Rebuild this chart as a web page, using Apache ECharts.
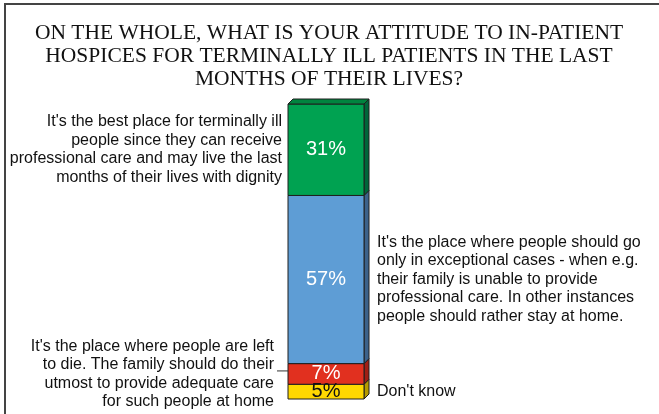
<!DOCTYPE html>
<html>
<head>
<meta charset="utf-8">
<script src="https://cdn.jsdelivr.net/npm/echarts@6/dist/echarts.min.js"></script>
<style>
  html, body { margin: 0; padding: 0; background: #fff; }
  #chart { width: 659px; height: 414px; }
</style>
</head>
<body>
<div id="chart"></div>
<script>
// Survey answers, listed from the top of the stacked column to the bottom
const answers = [
  "It's the best place for terminally ill\npeople since they can receive\nprofessional care and may live the last\nmonths of their lives with dignity",
  "It's the place where people should go\nonly in exceptional cases - when e.g.\ntheir family is unable to provide\nprofessional care. In other instances\npeople should rather stay at home.",
  "It's the place where people are left\nto die. The family should do their\nutmost to provide adequate care\nfor such people at home",
  "Don't know"
];
// Share of respondents (%) for each answer
const shares = [31, 57, 7, 5];

const titleText = "ON THE WHOLE, WHAT IS YOUR ATTITUDE TO IN-PATIENT\nHOSPICES FOR TERMINALLY ILL PATIENTS IN THE LAST\nMONTHS OF THEIR LIVES?";

// Face colours: front, side, top, and value-label colour
const faceFront = ['#00a251', '#5e9dd5', '#e1301f', '#ffd800'];
const faceSide  = ['#00663a', '#3c628a', '#a01f14', '#b59a00'];
const faceTop   = ['#00843f', '#4a7fb0', '#b82619', '#d4b400'];
const valueInk  = ['#ffffff', '#ffffff', '#ffffff', '#111111'];
// Which answers sit to the right of the column, and extra gap for a leader line
const onRight   = [false, true, false, true];
const leaderGap = [0, 0, 8, 0];

const SANS = "'Liberation Sans', Arial, sans-serif";
const DEPTH = 5;

// Stack the segments from the bottom up
const segments = [];
let acc = 0;
for (let i = shares.length - 1; i >= 0; i--) {
  segments.push({ value: [0, acc, acc + shares[i], i] });
  acc += shares[i];
}
const topIndex = 0;

function renderItem(params, api) {
  const start = api.value(1);
  const end = api.value(2);
  const i = api.value(3);
  const pB = api.coord([0, start]);
  const pT = api.coord([0, end]);
  const w = api.size([1, 0])[0];
  const x = pB[0] - w / 2;
  const yB = pB[1];
  const yT = pT[1];
  const yC = (yB + yT) / 2;
  const edge = { stroke: '#1e1e1e', lineWidth: 1 };
  const children = [
    {
      type: 'polygon',
      shape: { points: [[x + w, yT], [x + w + DEPTH, yT - DEPTH], [x + w + DEPTH, yB - DEPTH], [x + w, yB]] },
      style: Object.assign({ fill: faceSide[i] }, edge)
    },
    {
      type: 'rect',
      shape: { x: x, y: yT, width: w, height: yB - yT },
      style: Object.assign({ fill: faceFront[i] }, edge)
    }
  ];
  if (i === topIndex) {
    children.push({
      type: 'polygon',
      shape: { points: [[x, yT], [x + DEPTH, yT - DEPTH], [x + w + DEPTH, yT - DEPTH], [x + w, yT]] },
      style: Object.assign({ fill: faceTop[i] }, edge)
    });
  }
  children.push({
    type: 'text',
    style: {
      text: shares[i] + '%',
      x: x + w / 2, y: yC,
      align: 'center', verticalAlign: 'middle',
      fill: valueInk[i], font: '20px ' + SANS
    },
    z2: 10
  });
  const textX = onRight[i] ? x + w + DEPTH + 8 : x - 6 - leaderGap[i];
  children.push({
    type: 'text',
    style: {
      text: answers[i],
      x: textX, y: yC,
      align: onRight[i] ? 'left' : 'right', verticalAlign: 'middle',
      fill: '#111', font: '16px ' + SANS, lineHeight: 18.5
    }
  });
  if (leaderGap[i] > 0) {
    children.push({
      type: 'line',
      shape: { x1: textX + 3, y1: yC - 3, x2: x, y2: yC - 3 },
      style: { stroke: '#333', lineWidth: 1 }
    });
  }
  return { type: 'group', children: children };
}

const chart = echarts.init(document.getElementById('chart'), null, { renderer: 'canvas' });
chart.setOption({
  animation: false,
  backgroundColor: '#ffffff',
  graphic: [
    {
      type: 'rect',
      shape: { x: 5, y: 4, width: 900, height: 700 },
      style: { fill: 'none', stroke: '#444', lineWidth: 2 },
      silent: true
    },
    {
      type: 'text',
      x: 329, y: 21.5,
      style: {
        text: titleText,
        align: 'center', verticalAlign: 'top',
        fill: '#111', lineHeight: 23,
        font: "21.5px 'Liberation Serif', 'Times New Roman', serif"
      },
      silent: true
    }
  ],
  grid: { left: 288, top: 104, width: 76, height: 295 },
  xAxis: { type: 'category', data: ['all'], show: false },
  yAxis: { type: 'value', min: 0, max: 100, show: false },
  series: [{
    type: 'custom',
    renderItem: renderItem,
    encode: { x: 0, y: [1, 2] },
    data: segments,
    clip: false
  }]
});
</script>
</body>
</html>
